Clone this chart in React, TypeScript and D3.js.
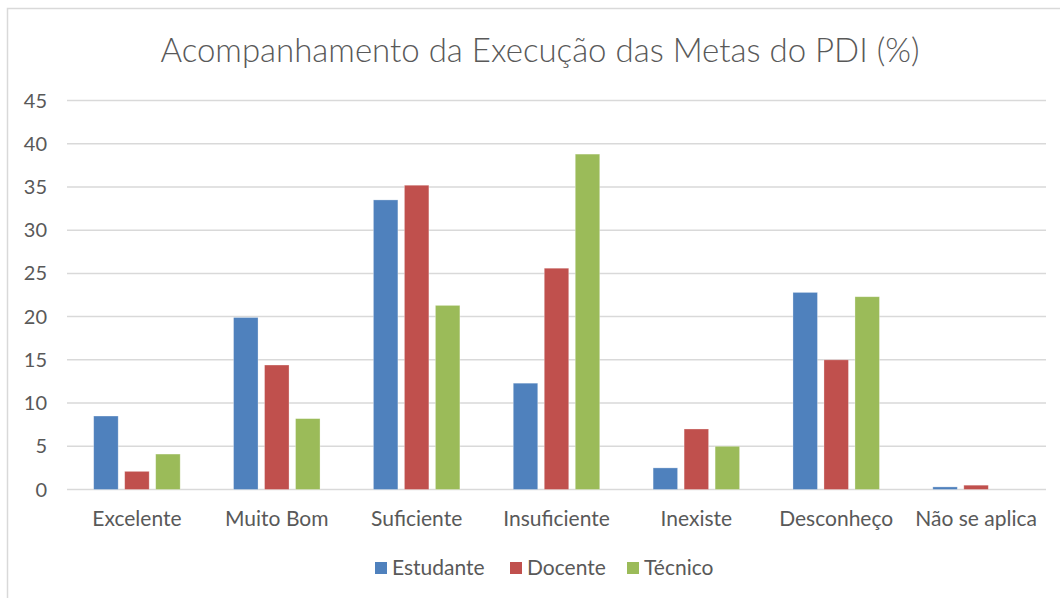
import React from "react";
import * as d3 from "d3";

const categories = ["Excelente", "Muito Bom", "Suficiente", "Insuficiente", "Inexiste", "Desconheço", "Não se aplica"];
const seriesNames = ["Estudante", "Docente", "Técnico"];
const estudante = [8.5, 19.9, 33.5, 12.3, 2.5, 22.8, 0.3];
const docente = [2.1, 14.4, 35.2, 25.6, 7.0, 15.0, 0.5];
const tecnico = [4.1, 8.2, 21.3, 38.8, 5.0, 22.3, 0];
const yTicks = [0, 5, 10, 15, 20, 25, 30, 35, 40, 45];
const colors = ["#4f81bd", "#c0504d", "#9bbb59"];

const W = 1060;
const H = 598;
const plot = { left: 67, right: 1046, top: 100.5, bottom: 489.5 };
const FONT = "Lato, 'Open Sans', sans-serif";

const App = () => {
  const series = [estudante, docente, tecnico];

  const x = d3.scaleBand().domain(categories).range([plot.left, plot.right]).padding(0);
  const y = d3.scaleLinear().domain([0, 45]).range([plot.bottom, plot.top]);

  // bars inside a category: 3 bars with small gaps, centred
  const barW = 24.5;
  const barGap = 6.5;
  const groupW = barW * 3 + barGap * 2;

  return (
    <svg width={W} height={H} style={{ position: "absolute", left: 0, top: 0 }}>
      <rect x={0} y={0} width={W} height={H} fill="#fff" />
      <path d={`M7.5,${H} V8.5 H${W}`} fill="none" stroke="#d9d9d9" strokeWidth={1.5} />

      <text x={540} y={62} textAnchor="middle" fontFamily={FONT} fontWeight={300} fontSize={33} fill="#595959">
        Acompanhamento da Execução das Metas do PDI (%)
      </text>

      {yTicks.map((t) => (
        <g key={t}>
          <line x1={plot.left} x2={plot.right} y1={y(t)} y2={y(t)} stroke="#d9d9d9" strokeWidth={1.5} />
          <text x={47} y={y(t)} dy="0.35em" textAnchor="end" fontFamily={FONT} fontSize={20} fill="#595959">
            {t}
          </text>
        </g>
      ))}

      {categories.map((c, i) => {
        const cx = (x(c) as number) + x.bandwidth() / 2;
        return (
          <g key={c}>
            {series.map((s, j) => {
              const v = s[i];
              if (!v) return null;
              const bx = cx - groupW / 2 + j * (barW + barGap);
              return (
                <rect
                  key={j}
                  x={bx}
                  y={y(v)}
                  width={barW}
                  height={y(0) - y(v)}
                  fill={colors[j]}
                  stroke="#fff"
                  strokeOpacity={0.4}
                  strokeWidth={0.75}
                />
              );
            })}
            <text x={cx} y={519} dy="0.35em" textAnchor="middle" fontFamily={FONT} fontSize={21} fill="#595959">
              {c}
            </text>
          </g>
        );
      })}

      {seriesNames.map((n, j) => {
        const lx = [375, 510, 627][j];
        return (
          <g key={n}>
            <rect x={lx} y={562} width={12} height={12} fill={colors[j]} />
            <text x={lx + 17} y={568} dy="0.35em" fontFamily={FONT} fontSize={21} fill="#595959">
              {n}
            </text>
          </g>
        );
      })}
    </svg>
  );
};

export default App;
